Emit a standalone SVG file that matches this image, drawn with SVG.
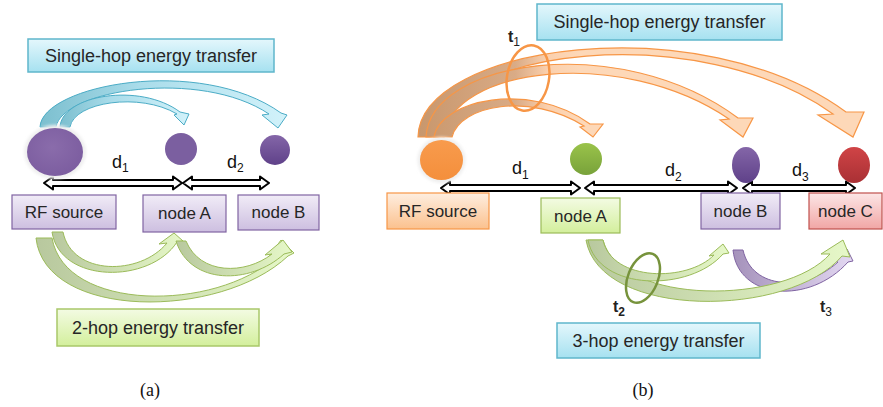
<svg xmlns="http://www.w3.org/2000/svg" width="883" height="407" viewBox="0 0 883 407">
<defs>
<linearGradient id="gPurp" x1="0" y1="0" x2="0" y2="1"><stop offset="0" stop-color="#f1ecf7"/><stop offset="1" stop-color="#cdbfe0"/></linearGradient>
<linearGradient id="gBlue" x1="0" y1="0" x2="0" y2="1"><stop offset="0" stop-color="#e4f7fc"/><stop offset="1" stop-color="#a6e1f0"/></linearGradient>
<linearGradient id="gGreen" x1="0" y1="0" x2="0" y2="1"><stop offset="0" stop-color="#f3fbe3"/><stop offset="1" stop-color="#d3ef9c"/></linearGradient>
<linearGradient id="gOrange" x1="0" y1="0" x2="0" y2="1"><stop offset="0" stop-color="#feeee0"/><stop offset="1" stop-color="#fbc18e"/></linearGradient>
<linearGradient id="gRed" x1="0" y1="0" x2="0" y2="1"><stop offset="0" stop-color="#fce6e6"/><stop offset="1" stop-color="#f1a6a5"/></linearGradient>
<linearGradient id="aBlue" x1="0" y1="0" x2="1" y2="0"><stop offset="0" stop-color="#7cbfcf"/><stop offset="0.4" stop-color="#a9dcea"/><stop offset="1" stop-color="#d2f2fa"/></linearGradient>
<linearGradient id="aGreen" x1="0" y1="0" x2="1" y2="0"><stop offset="0" stop-color="#b8c89e"/><stop offset="1" stop-color="#e6f8c8"/></linearGradient>
<linearGradient id="aPurp" x1="0" y1="0" x2="1" y2="0"><stop offset="0" stop-color="#a592bb"/><stop offset="1" stop-color="#e3d8f2"/></linearGradient>
<linearGradient id="aOrange" gradientUnits="userSpaceOnUse" x1="418" y1="0" x2="580" y2="0"><stop offset="0" stop-color="#c8976d"/><stop offset="0.6" stop-color="#d9ab86"/><stop offset="0.8" stop-color="#fbd0ad"/><stop offset="1" stop-color="#fdd8b8"/></linearGradient>
<radialGradient id="cPurpBig" cx="0.45" cy="0.4" r="0.7"><stop offset="0" stop-color="#8a6cab"/><stop offset="1" stop-color="#7a5b9e"/></radialGradient>
<linearGradient id="cPurp" x1="0" y1="0" x2="0" y2="1"><stop offset="0" stop-color="#8466a8"/><stop offset="1" stop-color="#5f4189"/></linearGradient>
<linearGradient id="cOrange" x1="0" y1="0" x2="0" y2="1"><stop offset="0" stop-color="#f89b4d"/><stop offset="1" stop-color="#f48f3c"/></linearGradient>
<linearGradient id="cGreen" x1="0" y1="0" x2="0" y2="1"><stop offset="0" stop-color="#9ac34a"/><stop offset="1" stop-color="#78a23a"/></linearGradient>
<linearGradient id="cRed" x1="0" y1="0" x2="0" y2="1"><stop offset="0" stop-color="#d04446"/><stop offset="1" stop-color="#a93034"/></linearGradient>
<filter id="glow" x="-30%" y="-30%" width="160%" height="160%"><feGaussianBlur stdDeviation="1.5"/></filter>
</defs>
<style>
.lbl{font-family:"Liberation Sans",Arial,sans-serif;font-size:17px;fill:#262626;text-anchor:middle}
.big{font-family:"Liberation Sans",Arial,sans-serif;font-size:18px;fill:#262626;text-anchor:middle}
.dl{font-family:"Liberation Sans",Arial,sans-serif;font-size:18px;fill:#111}
.sub{font-size:12px}
.tl{font-family:"Liberation Sans",Arial,sans-serif;font-size:16px;fill:#222;font-weight:bold}
.cap{font-family:"Liberation Serif","Times New Roman",serif;font-size:18px;fill:#111;text-anchor:middle}
.dbl{fill:#fff;stroke:#000;stroke-width:2;stroke-linejoin:round}
.ab{fill:url(#aBlue);stroke:#4bacc6;stroke-width:1}
.ag{fill:url(#aGreen);stroke:#9bbb59;stroke-width:1}
.ap{fill:url(#aPurp);stroke:#8064a2;stroke-width:1}
.ao{fill:url(#aOrange);stroke:#f79646;stroke-width:1.2}
.halo{fill:#efefef;filter:url(#glow)}
</style>

<!-- connectors -->
<g id="connectors">
  <!-- (a) single-hop blue -->
  <path class="ab" d="M40,127 C42,85 200,55 281,113 L287,115 L278,128 L262,115 L269,114 C200,68 62,90 56,127 Z"/>
  <path class="ab" d="M60,127 C62,95 140,82 180,112 L189,114 L184,125 L174,115 L177,114 C140,92 74,102 70,127 Z"/>
  <!-- (a) 2-hop green -->
  <path class="ag" d="M36,238 C45,320 220,320 288,256 L294,253 L281,240 L268,258 L276,257 C215,312 65,312 52,238 Z"/>
  <path class="ag" d="M52,232 C60,284 150,284 177,242 L183,241 L174,233 L159,244 L167,243 C140,276 72,276 63,232 Z"/>
  <path class="ag" d="M176,241 C190,285 250,285 284,254 L292,252 L283,240 L265,255 L272,254 C245,275 200,275 186,241 Z"/>
  <!-- (b) single-hop orange -->
  <path class="ao" d="M418,137 C420,45 700,5 846,112 L864,112 L853,137 L818,115 L833,114 C700,18 440,48 438,137 Z"/>
  <path class="ao" d="M426,137 C430,60 620,30 738,118 L753,118 L743,137 L720,120 L729,119 C620,45 450,68 444,137 Z"/>
  <path class="ao" d="M434,137 C440,100 530,80 590,124 L603,124 L593,137 L580,127 L584,126 C530,92 460,105 452,137 Z"/>
  <ellipse cx="528" cy="78" rx="21" ry="33" transform="rotate(10 528 78)" fill="none" stroke="#f79646" stroke-width="2.5"/>
  <!-- (b) 3-hop -->
  <path class="ap" d="M733,250 C738,300 810,305 848,262 L853,261 L847,249 L832,261 L838,262 C805,292 752,290 743,250 Z"/>
  <path class="ag" d="M586,240 C600,320 790,318 842,256 L850,257 L843,240 L821,254 L830,254 C785,305 620,306 603,240 Z"/>
  <path class="ag" d="M588,240 C598,292 690,292 723,254 L729,253 L723,244 L709,256 L714,255 C688,282 612,282 603,240 Z"/>
  <ellipse cx="643" cy="278" rx="15" ry="26" transform="rotate(22 643 278)" fill="none" stroke="#77933c" stroke-width="2.5"/>
  <!-- distance arrows -->
  <path class="dbl" d="M44,183 L53,176.5 L53,180 L173,180 L173,176.5 L182,183 L173,189.5 L173,186 L53,186 L53,189.5 Z"/>
  <path class="dbl" d="M183,183 L192,176.5 L192,180 L260,180 L260,176.5 L269,183 L260,189.5 L260,186 L192,186 L192,189.5 Z"/>
  <path class="dbl" d="M441,188 L450,181.5 L450,185 L571,185 L571,181.5 L580,188 L571,194.5 L571,191 L450,191 L450,194.5 Z"/>
  <path class="dbl" d="M585,188 L594,181.5 L594,185 L728,185 L728,181.5 L737,188 L728,194.5 L728,191 L594,191 L594,194.5 Z"/>
  <path class="dbl" d="M743,188 L752,181.5 L752,185 L846,185 L846,181.5 L855,188 L846,194.5 L846,191 L752,191 L752,194.5 Z"/>
</g>

<!-- panel (a) -->
<g id="a-single-hop-label"><rect x="28" y="39" width="246" height="33" fill="url(#gBlue)" stroke="#5fb6cb" stroke-width="1.5"/><text class="big" x="151" y="62">Single-hop energy transfer</text></g>
<g id="a-rf-circle"><ellipse class="halo" cx="55" cy="152" rx="31" ry="27"/><ellipse cx="55" cy="152" rx="28" ry="24" fill="url(#cPurpBig)"/></g>
<g id="a-nodeA-circle"><circle cx="181" cy="149" r="16" fill="#7b5fa0"/></g>
<g id="a-nodeB-circle"><circle cx="275" cy="150" r="15" fill="url(#cPurp)"/></g>
<g id="a-d1"><text class="dl" x="112" y="168">d<tspan class="sub" dy="4">1</tspan></text></g>
<g id="a-d2"><text class="dl" x="227" y="168">d<tspan class="sub" dy="4">2</tspan></text></g>
<g id="a-rf-box"><rect x="12" y="195" width="104" height="34" fill="url(#gPurp)" stroke="#8064a2" stroke-width="1.2"/><text class="lbl" x="64" y="218">RF source</text></g>
<g id="a-nodeA-box"><rect x="143" y="195" width="83" height="37" fill="url(#gPurp)" stroke="#8064a2" stroke-width="1.2"/><text class="lbl" x="184.5" y="219">node A</text></g>
<g id="a-nodeB-box"><rect x="238" y="195" width="81" height="35" fill="url(#gPurp)" stroke="#8064a2" stroke-width="1.2"/><text class="lbl" x="278.5" y="218">node B</text></g>
<g id="a-two-hop-label"><rect x="57" y="309" width="202" height="37" fill="url(#gGreen)" stroke="#a9c86a" stroke-width="1.5"/><text class="big" x="158" y="334">2-hop energy transfer</text></g>
<g id="cap-a"><text class="cap" x="150" y="396">(a)</text></g>

<!-- panel (b) -->
<g id="b-single-hop-label"><rect x="537" y="4" width="245" height="36" fill="url(#gBlue)" stroke="#5fb6cb" stroke-width="1.5"/><text class="big" x="659.5" y="28">Single-hop energy transfer</text></g>
<g id="b-t1"><text class="tl" x="508" y="42">t<tspan class="sub" dy="4" font-weight="normal">1</tspan></text></g>
<g id="b-rf-circle"><ellipse class="halo" cx="441.5" cy="160" rx="24" ry="23"/><ellipse cx="441.5" cy="160" rx="21.5" ry="20" fill="url(#cOrange)"/></g>
<g id="b-nodeA-circle"><ellipse cx="586" cy="159" rx="16" ry="16" fill="url(#cGreen)"/></g>
<g id="b-nodeB-circle"><ellipse cx="746" cy="165" rx="14" ry="18" fill="url(#cPurp)"/></g>
<g id="b-nodeC-circle"><ellipse cx="854" cy="165" rx="16" ry="18" fill="url(#cRed)"/></g>
<g id="b-d1"><text class="dl" x="512" y="174" font-size="16">d<tspan class="sub" dy="5">1</tspan></text></g>
<g id="b-d2"><text class="dl" x="665" y="176" font-size="16">d<tspan class="sub" dy="5">2</tspan></text></g>
<g id="b-d3"><text class="dl" x="792" y="176" font-size="16">d<tspan class="sub" dy="5">3</tspan></text></g>
<g id="b-rf-box"><rect x="387" y="193" width="102" height="36" fill="url(#gOrange)" stroke="#f79646" stroke-width="1.2"/><text class="lbl" x="438" y="217">RF source</text></g>
<g id="b-nodeA-box"><rect x="541" y="198" width="79" height="35" fill="url(#gGreen)" stroke="#9bbb59" stroke-width="1.2"/><text class="lbl" x="580.5" y="222">node A</text></g>
<g id="b-nodeB-box"><rect x="701" y="193" width="79" height="36" fill="url(#gPurp)" stroke="#8064a2" stroke-width="1.2"/><text class="lbl" x="740.5" y="217">node B</text></g>
<g id="b-nodeC-box"><rect x="809" y="193" width="73" height="36" fill="url(#gRed)" stroke="#c0504d" stroke-width="1.2"/><text class="lbl" x="845.5" y="217">node C</text></g>
<g id="b-t2"><text class="tl" x="613" y="312">t<tspan class="sub" dy="4">2</tspan></text></g>
<g id="b-t3"><text class="tl" x="820" y="312">t<tspan class="sub" dy="4" font-weight="normal">3</tspan></text></g>
<g id="b-three-hop-label"><rect x="557" y="323" width="203" height="35" fill="url(#gBlue)" stroke="#5fb6cb" stroke-width="1.5"/><text class="big" x="658.5" y="347">3-hop energy transfer</text></g>
<g id="cap-b"><text class="cap" x="643" y="396">(b)</text></g>
</svg>
